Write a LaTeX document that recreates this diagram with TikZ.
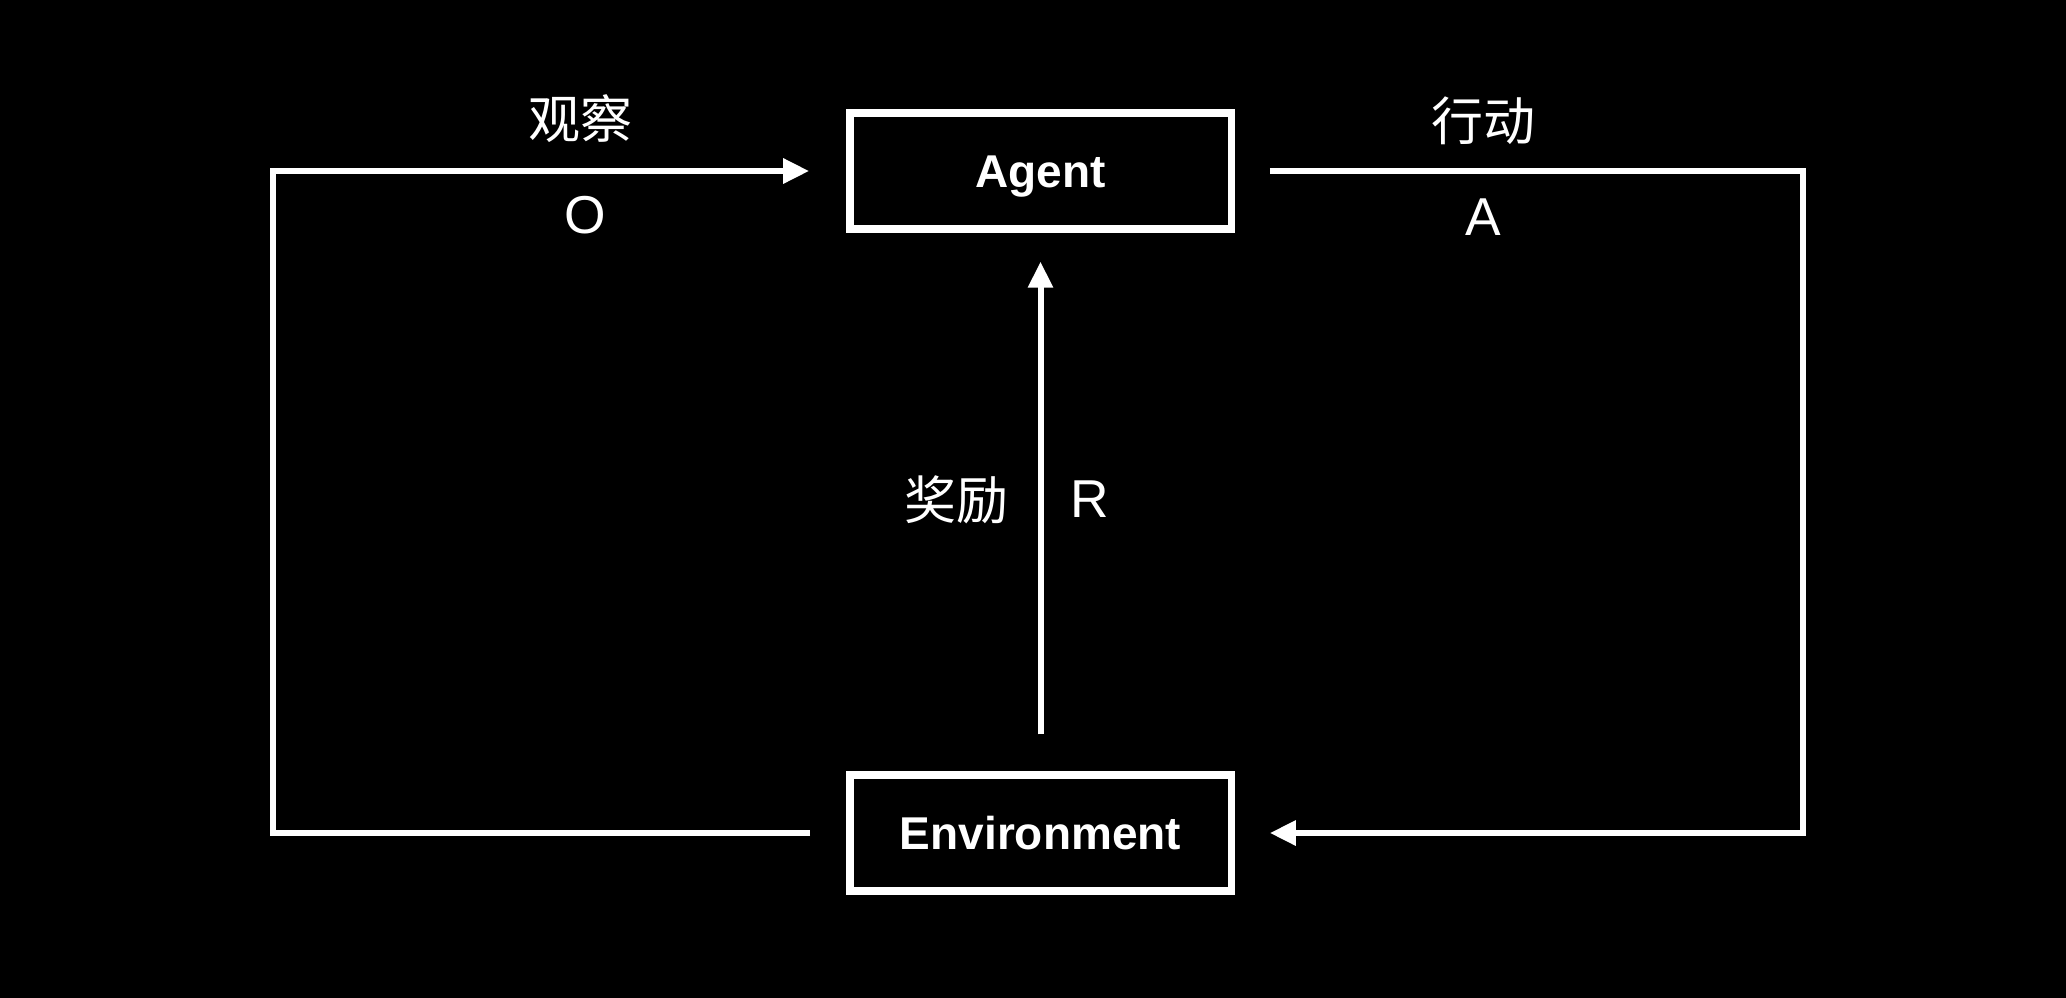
\documentclass[tikz,border=0pt]{standalone}
\usepackage{fontspec}
\setmainfont{Liberation Sans}
\newfontfamily\cjk{Noto Sans CJK SC}
\usetikzlibrary{arrows.meta}

\tikzset{every picture/.style={line width=4.5pt}}
\tikzset{
  block/.style={draw=white, line width=5.5pt, minimum width=286pt, minimum height=87pt,
    inner sep=0pt, text height=25pt, text depth=0pt, text=white,
    font=\fontsize{34.5}{42}\selectfont\bfseries},
  wire/.style={draw=white, line width=4.5pt},
  tipend/.style={-{Triangle[length=19.5pt,width=18pt]}},
  letter/.style={text=white, inner sep=0.75pt, font=\fontsize{40}{48}\selectfont},
  hanzi/.style={text=white, inner sep=0.75pt, font=\fontsize{39}{47}\selectfont\cjk}
}

\begin{document}
\begin{tikzpicture}[x=0.75pt,y=0.75pt,yscale=-1,xscale=1]
%set diagram left start at 0, and has height of 997
\useasboundingbox (0,0) rectangle (2066,997);
\fill[black] (-5,-5) rectangle (2071,1002);

%Shape: Rectangle [id:agent]
\node[block] (agent) at (1040.5,171) {Agent};
%Shape: Rectangle [id:env]
\node[block] (env) at (1040.5,833) {Environment};

%Corners of the two loops
\coordinate (lcorner) at (272.7,500);
\coordinate (rcorner) at (1802.5,500);

%Straight Lines [id:observe]
\draw[wire,tipend] ([xshift=-27pt]env.west) -| (lcorner) |- ([xshift=-27.75pt]agent.west);
%Straight Lines [id:act]
\draw[wire,tipend] ([xshift=26.25pt]agent.east) -| (rcorner) |- ([xshift=26.25pt]env.east);
%Straight Lines [id:reward]
\draw[wire,tipend] ([yshift=-27.75pt]env.north) -- ([yshift=21.75pt]agent.south);

% Text Node
\node[hanzi] (obs) at (580,118.6) {观察};
% Text Node
\node[letter] (obsO) at (585,214.8) {O};
% Text Node
\node[hanzi] (actn) at (1483.6,121) {行动};
% Text Node
\node[letter] (actA) at (1483.6,217.4) {A};
% Text Node
\node[hanzi] (rew) at (956.6,499.4) {奖励};
% Text Node
\node[letter] (rewR) at (1089.7,499.4) {R};

\end{tikzpicture}
\end{document}
